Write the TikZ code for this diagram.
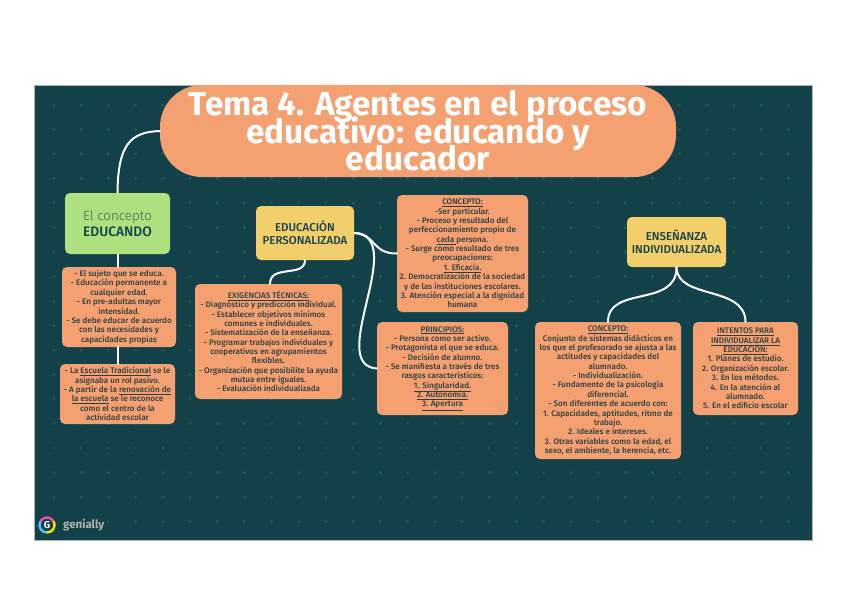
\documentclass[tikz,border=0pt]{standalone}
\usepackage{fontspec}
\setmainfont{Fira Sans}
\newfontfamily\medfont{Fira Sans Medium}
\newfontfamily\lightfont{Fira Sans Light}
\usepackage{tikz}
\usetikzlibrary{positioning}
\lineskiplimit=-100pt
\definecolor{panelteal}{HTML}{12414A}
\definecolor{dotteal}{HTML}{255C52}
\definecolor{boxorange}{HTML}{F4A070}
\definecolor{boxgreen}{HTML}{AEE07F}
\definecolor{boxyellow}{HTML}{F3CF6B}
\definecolor{bodyink}{HTML}{2C3F42}
\tikzset{
  infobox/.style={fill=boxorange, rounded corners=5pt, align=center, text=bodyink, inner sep=0pt,
    font=\fontsize{8.1}{9.35}\medfont},
  headbox/.style={fill=boxyellow, rounded corners=5pt, align=center, text=panelteal, inner sep=0pt,
    font=\fontsize{11.5}{12.8}\medfont},
  link/.style={draw=white, line width=2pt, line cap=round},
}
\begin{document}
\begin{tikzpicture}[x=1pt, y=-1pt]
  \useasboundingbox (0,0) rectangle (848,599);
  \fill[white] (0,0) rectangle (848,599);
  \draw[fill=panelteal, draw=gray!60, line width=0.8pt] (34,85) rectangle (812,540);
  \foreach \i in {0,...,27}
    \foreach \j in {0,...,17}
      \fill[dotteal] (54+\i*27.2,105+\j*24.5) circle (1.6);

  \node[fill=boxorange, rounded corners=42pt, minimum width=516pt, minimum height=92pt, inner sep=0pt,
    align=center, text=white, font=\fontsize{33.3}{27.5}\selectfont\bfseries] (title) at (418,131)
    {Tema 4. Agentes en el proceso\\educativo: educando y\\educador};

  \node[fill=boxgreen, rounded corners=5pt, minimum width=105pt, minimum height=61pt, inner sep=0pt,
    align=center, text=panelteal, font=\fontsize{13.4}{16}\lightfont] (educando) at (117.5,223.5)
    {\textcolor{panelteal!75!boxgreen}{El concepto}\\{\fontsize{13.8}{16}\medfont EDUCANDO}};
  \node[infobox, minimum width=114pt, minimum height=80pt] (sujeto) at (119,307)
    {- El sujeto que se educa.\\- Educación permanente a\\cualquier edad.\\- En pre-adultas mayor\\intensidad.\\- Se debe educar de acuerdo\\con las necesidades y\\capacidades propias};
  \node[infobox, minimum width=115pt, minimum height=60pt] (escuela) at (117.5,394)
    {- La \underline{Escuela Tradicional} se le\\asignaba un rol pasivo.\\- A partir de la \underline{renovación de}\\\underline{la escuela} se le reconoce\\como el centro de la\\actividad escolar};

  \node[headbox, minimum width=98pt, minimum height=54pt] (personalizada) at (305,233)
    {EDUCACIÓN\\PERSONALIZADA};
  \node[infobox, minimum width=147pt, minimum height=115pt] (exigencias) at (268.5,341.5)
    {\underline{EXIGENCIAS TÉCNICAS:}\\- Diagnóstico y predicción individual.\\- Establecer objetivos mínimos\\comunes e individuales.\\- Sistematización de la enseñanza.\\- Programar trabajos individuales y\\cooperativos en agrupamientos\\flexibles.\\- Organización que posibilite la ayuda\\mutua entre iguales.\\- Evaluación individualizada};
  \node[infobox, minimum width=131pt, minimum height=117pt] (conceptop) at (462.5,253.5)
    {\underline{CONCEPTO:}\\-Ser particular.\\- Proceso y resultado del\\perfeccionamiento propio de\\\underline{cada }persona.\\- Surge como resultado de tres\\preocupaciones:\\\underline{1. Eficacia.}\\2. Democratización de la sociedad\\y de las instituciones escolares.\\3. Atención especial a la dignidad\\humana};
  \node[infobox, minimum width=131pt, minimum height=93pt] (principios) at (442.5,368.5)
    {\underline{PRINCIPIOS:}\\- Persona como ser activo.\\- Protagonista el que se educa.\\- Decisión de alumno.\\- Se manifiesta a través de tres\\rasgos característicos:\\\underline{1. Singularidad.}\\\underline{2. Autonomía.}\\\underline{3. Apertura}};

  \node[headbox, minimum width=99pt, minimum height=50pt] (individualizada) at (676.5,242)
    {ENSEÑANZA\\INDIVIDUALIZADA};
  \node[infobox, minimum width=146pt, minimum height=137pt] (conceptoi) at (608,390.5)
    {\underline{CONCEPTO:}\\Conjunto de sistemas didácticos en\\los que el profesorado se ajusta a las\\actitudes y capacidades del\\alumnado.\\- Individualización.\\- Fundamento de la psicología\\diferencial.\\- Son diferentes de acuerdo con:\\1. Capacidades, aptitudes, ritmo de\\trabajo.\\2. Ideales e intereses.\\3. Otras variables como la edad, el\\sexo, el ambiente, la herencia, etc.};
  \node[infobox, minimum width=105pt, minimum height=93pt] (intentos) at (745.5,368.5)
    {\underline{INTENTOS PARA}\\\underline{INDIVIDUALIZAR LA}\\\underline{EDUCACIÓN:}\\1. Planes de estudio.\\2. Organización escolar.\\3. En los métodos.\\4. En la atención al\\alumnado.\\5. En el edificio escolar};

  \draw[link] (title.west) .. controls (130,132) and (118,145) .. (educando.north);
  \draw[link] (educando.south) -- (sujeto.north -| educando.south);
  \draw[link] (sujeto.south -| escuela.north) -- (escuela.north);
  \draw[link] (personalizada.south) .. controls (305,278) and (270,264) .. (exigencias.north -| 270,0);
  \draw[link] (personalizada.east) .. controls (375,233) and (372,254) .. (conceptop.west);
  \draw[link] (personalizada.east) .. controls (410,236) and (325,365) .. (principios.west);
  \draw[link] (individualizada.south) .. controls (677,308) and (608,285) .. (conceptoi.north);
  \draw[link] (individualizada.south) .. controls (677,300) and (745,285) .. (intentos.north);

  \coordinate (logo) at (47,525);
  \draw[line width=2.4pt, cyan!70!white] (logo) ++(90:7.5) arc (90:210:7.5);
  \draw[line width=2.4pt, magenta!70!white] (logo) ++(210:7.5) arc (210:330:7.5);
  \draw[line width=2.4pt, yellow!85!orange] (logo) ++(330:7.5) arc (330:450:7.5);
  \node[text=white, inner sep=0pt, font=\fontsize{10}{10}\selectfont\bfseries] (logog) at (logo) {G};
  \node[right=16pt of logo, text=gray!60!white, inner sep=0pt, font=\fontsize{11.5}{12}\selectfont\bfseries] (logotext) {genially};
\end{tikzpicture}
\end{document}
